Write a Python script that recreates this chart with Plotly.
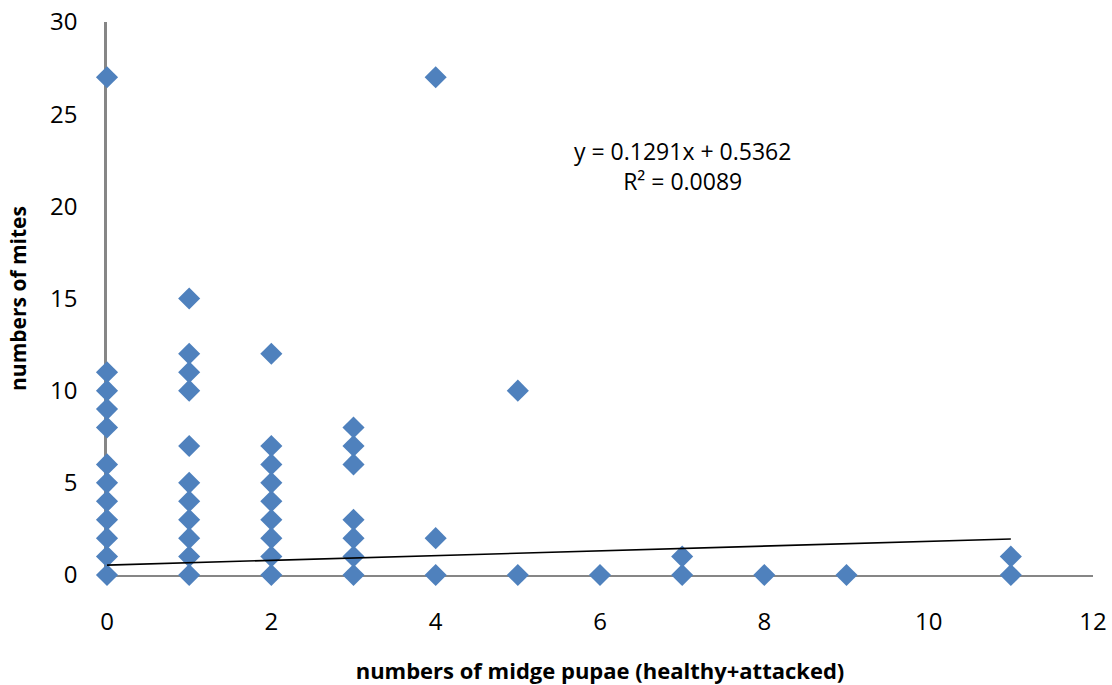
import plotly.graph_objects as go

# Data
x_vals = ([0]*12 + [1]*11 + [2]*9 + [3]*7 + [4]*3 + [5]*2 + [6] + [7]*2 + [8] + [9] + [11]*2)
y_vals = ([0, 1, 2, 3, 4, 5, 6, 8, 9, 10, 11, 27] +
          [0, 1, 2, 3, 4, 5, 7, 10, 11, 12, 15] +
          [0, 1, 2, 3, 4, 5, 6, 7, 12] +
          [0, 1, 2, 3, 6, 7, 8] +
          [0, 2, 27] +
          [0, 10] +
          [0] +
          [0, 1] +
          [0] +
          [0] +
          [0, 1])

slope = 0.1291
intercept = 0.5362
r_squared = 0.0089
trend_x = [0, 11]
trend_y = [intercept + slope * v for v in trend_x]

x_ticks = [0, 2, 4, 6, 8, 10, 12]
y_ticks = [0, 5, 10, 15, 20, 25, 30]

FONT = "Open Sans"

fig = go.Figure()
fig.add_trace(go.Scatter(
    x=x_vals, y=y_vals, mode="markers",
    marker=dict(symbol="diamond", size=17, color="#4F81BD", line=dict(width=0)),
    cliponaxis=False, showlegend=False,
))
fig.add_trace(go.Scatter(
    x=trend_x, y=trend_y, mode="lines",
    line=dict(color="black", width=1.6),
    cliponaxis=False, showlegend=False,
))

fig.add_annotation(
    x=7.0, y=22.2, xref="x", yref="y",
    text=f"y = {slope}x + {intercept}<br>R² = {r_squared}",
    showarrow=False, align="center",
    font=dict(family=FONT, size=23, color="black"),
)

fig.update_layout(
    width=1112, height=685,
    margin=dict(l=107, r=19, t=22, b=110),
    paper_bgcolor="white", plot_bgcolor="white",
    font=dict(family=FONT, color="black"),
    xaxis=dict(
        range=[0, 12], tickvals=x_ticks, showgrid=False, zeroline=False,
        showline=True, linecolor="#868686", linewidth=2, layer="below traces",
        ticks="", tickfont=dict(size=24, family=FONT), ticklabelstandoff=24,
        automargin=False,
        title=dict(text="<b>numbers of midge pupae (healthy+attacked)</b>",
                   font=dict(size=22, family=FONT), standoff=28),
    ),
    yaxis=dict(
        range=[0, 30], tickvals=y_ticks, showgrid=False, zeroline=False,
        showline=True, linecolor="#868686", linewidth=2.5, layer="below traces",
        ticks="", tickfont=dict(size=24, family=FONT), ticklabelstandoff=22,
        automargin=False,
        title=dict(text="<b>numbers of mites</b>",
                   font=dict(size=21, family=FONT), standoff=18),
    ),
)

fig.write_html("out.html")
